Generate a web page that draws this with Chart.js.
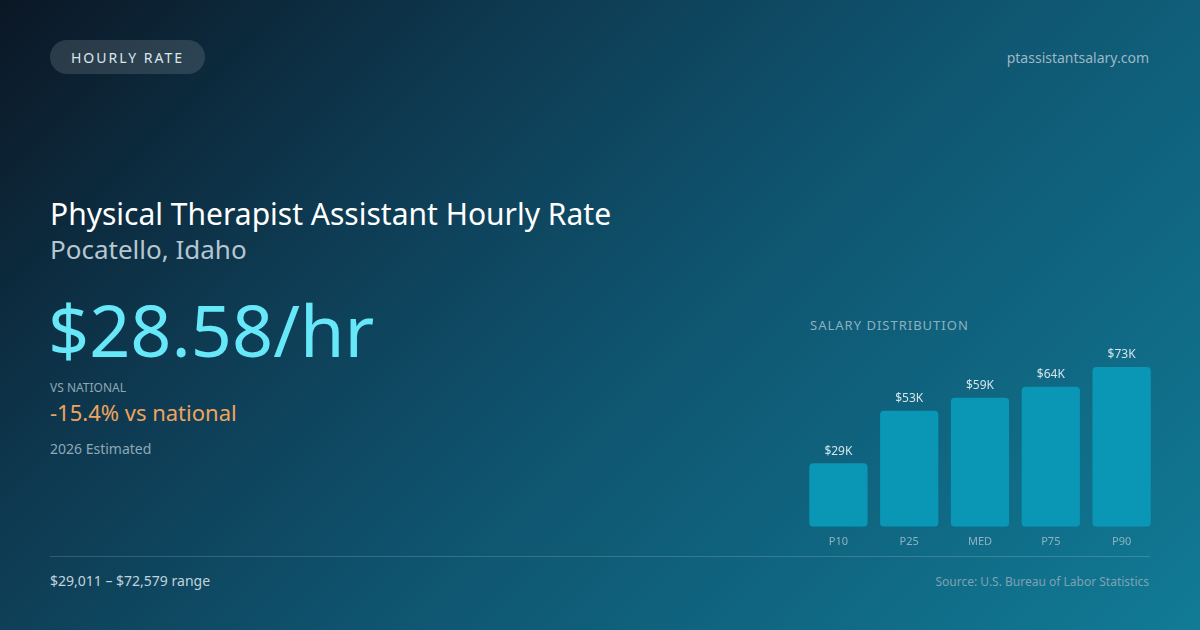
<!DOCTYPE html>
<html>
<head>
<meta charset="utf-8">
<script src="https://cdn.jsdelivr.net/npm/chart.js@4.4.1/dist/chart.umd.min.js"></script>
<style>
  html, body { margin: 0; padding: 0; }
  body {
    width: 1200px; height: 630px; overflow: hidden; position: relative;
    font-family: "Noto Sans", "Open Sans", sans-serif;
    background: linear-gradient(135deg, #0b1725 0%, #0e3d55 32%, #0f5570 55%, #117b96 100%);
    color: #fff;
  }
  .badge {
    position: absolute; left: 50px; top: 40px; height: 34px; width: 155px;
    border-radius: 17px; background: rgba(255,255,255,0.13);
    font-size: 14px; letter-spacing: 2px; color: #dbe6ec;
    display: flex; align-items: center; justify-content: center;
  }
  .site { position: absolute; right: 51px; top: 48px; font-size: 14px; color: #9db7c5; }
  .title { position: absolute; left: 50px; top: 193px; font-size: 30px; color: #fff; white-space: nowrap; }
  .sub { position: absolute; left: 50px; top: 231px; font-size: 26px; color: #b5c7d1; }
  .big { position: absolute; left: 48px; top: 290px; font-size: 72px; color: #67e8f9; line-height: 1.1; }
  .vsl { position: absolute; left: 50px; top: 379px; font-size: 12px; color: #8ea8b7; }
  .vs { position: absolute; left: 50px; top: 397px; font-size: 22px; color: #f0a35e; }
  .est { position: absolute; left: 50px; top: 439px; font-size: 14px; color: #8ea8b7; }
  .dist { position: absolute; left: 810px; top: 316px; font-size: 13px; letter-spacing: 1px; color: #8db1c1; }
  .chartbox { position: absolute; left: 803px; top: 328px; width: 354px; height: 220px; }
  .rule { position: absolute; left: 50px; top: 556px; width: 1100px; height: 1px; background: rgba(255,255,255,0.16); }
  .range { position: absolute; left: 50px; top: 571px; font-size: 14px; color: #c2d3dc; }
  .src { position: absolute; right: 51px; top: 573px; font-size: 12px; color: #7fa2b2; }
</style>
</head>
<body>
<div class="badge">HOURLY RATE</div>
<div class="site">ptassistantsalary.com</div>
<div class="title">Physical Therapist Assistant Hourly Rate</div>
<div class="sub">Pocatello, Idaho</div>
<div class="big">$28.58/hr</div>
<div class="vsl">VS NATIONAL</div>
<div class="vs">-15.4% vs national</div>
<div class="est">2026 Estimated</div>
<div class="dist">SALARY DISTRIBUTION</div>
<div class="chartbox"><canvas id="distChart"></canvas></div>
<div class="rule"></div>
<div class="range">$29,011 – $72,579 range</div>
<div class="src">Source: U.S. Bureau of Labor Statistics</div>

<script>
const percentiles = ['P10', 'P25', 'MED', 'P75', 'P90'];
const salaryK = [29, 53, 59, 64, 73];
const salaryLabels = ['$29K', '$53K', '$59K', '$64K', '$73K'];

// draw the value above each bar
const valueLabels = {
  id: 'valueLabels',
  afterDatasetsDraw(chart) {
    const ctx = chart.ctx;
    const meta = chart.getDatasetMeta(0);
    ctx.save();
    ctx.font = '12px "Noto Sans", sans-serif';
    ctx.fillStyle = '#d3e4eb';
    ctx.textAlign = 'center';
    ctx.textBaseline = 'bottom';
    meta.data.forEach((bar, i) => {
      ctx.fillText(salaryLabels[i], bar.x, bar.y - 6);
    });
    ctx.restore();
  }
};

new Chart(document.getElementById('distChart'), {
  type: 'bar',
  data: {
    labels: percentiles,
    datasets: [{
      data: salaryK,
      backgroundColor: '#0a97b5',
      borderRadius: 4,
      borderSkipped: false,
      categoryPercentage: 0.823,
      barPercentage: 1
    }]
  },
  options: {
    responsive: true,
    maintainAspectRatio: false,
    animation: false,
    layout: { padding: { top: 16, bottom: 0 } },
    plugins: { legend: { display: false }, tooltip: { enabled: false } },
    scales: {
      x: {
        grid: { display: false },
        border: { display: false },
        ticks: { color: '#8fb3c2', font: { family: 'Noto Sans', size: 11 }, padding: 0 }
      },
      y: {
        display: false,
        min: 0,
        max: 83.5
      }
    }
  },
  plugins: [valueLabels]
});
</script>
</body>
</html>
